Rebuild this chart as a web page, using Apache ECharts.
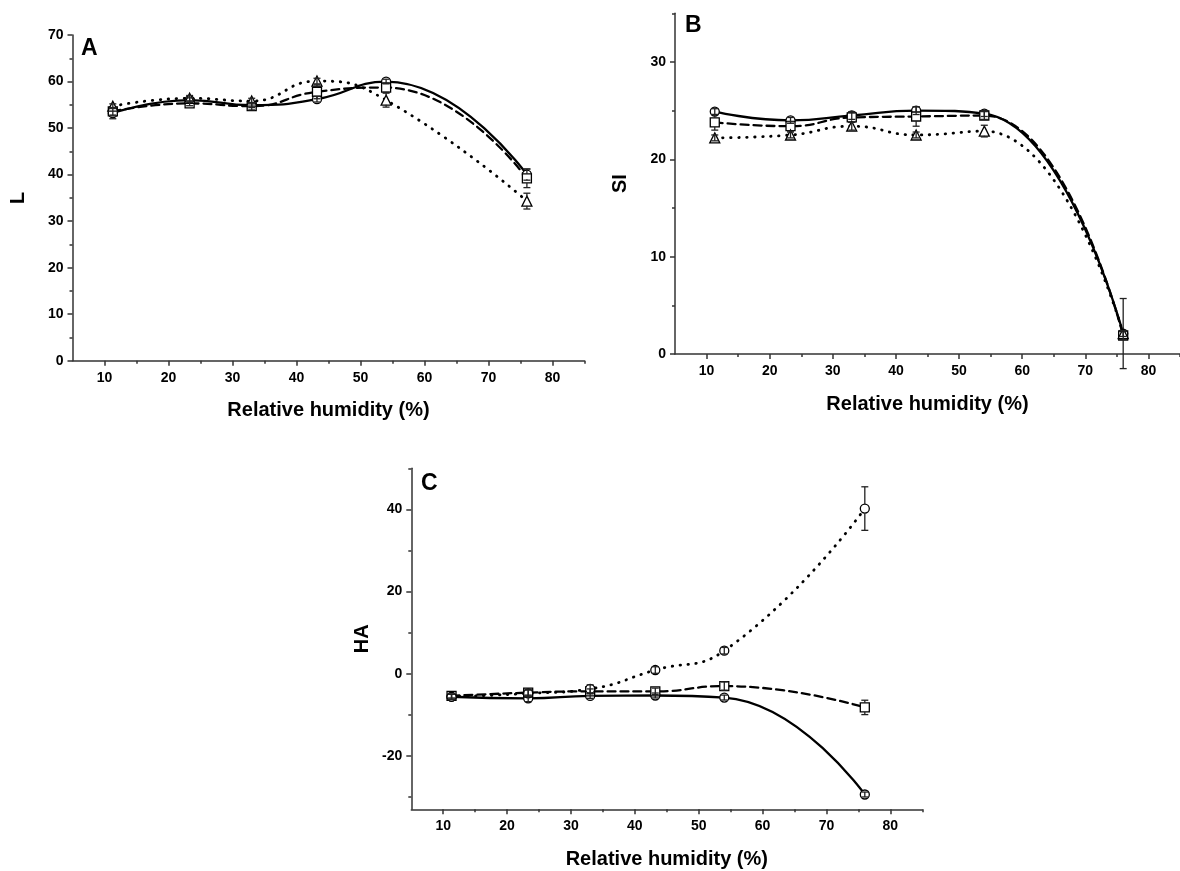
<!DOCTYPE html>
<html>
<head>
<meta charset="utf-8">
<title>Relative humidity panels</title>
<script src="https://cdn.jsdelivr.net/npm/echarts@6/dist/echarts.min.js"></script>
<style>
  html, body { margin: 0; padding: 0; background: #fff; }
  #main { width: 1180px; height: 871px; }
</style>
</head>
<body>
<div id="main"></div>
<script type="text/javascript">
// relative humidity (%) of each storage condition
var humidity = [11.3, 23.3, 33, 43.2, 54, 76];

// panel A : L
var L_solid = [53.2, 56.0, 54.9, 56.2, 60.0, 40.0];
var L_dashed = [53.6, 55.3, 54.7, 57.8, 58.7, 39.2];
var L_dotted = [54.7, 56.4, 55.8, 60.1, 56.0, 34.3];
var L_solidErr = [1.2, 0.5, 0.5, 0.6, 0.5, 1.2];
var L_dashedErr = [0.8, 0.5, 0.8, 1.5, 1.0, 2.0];
var L_dottedErr = [0.5, 0.6, 0.6, 0.6, 1.5, 1.7];

// panel B : SI
var SI_solid = [24.9, 24.0, 24.5, 25.0, 24.7, 2.1];
var SI_dashed = [23.8, 23.4, 24.3, 24.4, 24.5, 1.9];
var SI_dotted = [22.2, 22.5, 23.4, 22.5, 22.9, 2.1];
var SI_solidErr = [0.3, 0.3, 0.4, 0.4, 0.3, 3.6];
var SI_dashedErr = [0.8, 0.5, 0.5, 1.0, 0.4, 0.4];
var SI_dottedErr = [0.3, 0.3, 0.4, 0.3, 0.6, 0.3];

// panel C : HA
var HA_solid = [-5.6, -6.0, -5.4, -5.3, -5.8, -29.4];
var HA_dashed = [-5.4, -4.6, -4.3, -4.3, -3.0, -8.2];
var HA_dotted = [-5.6, -4.8, -3.7, 0.9, 5.6, 40.2];
var HA_solidErr = [0.6, 0.8, 0.6, 0.6, 0.6, 0.6];
var HA_dashedErr = [0.5, 0.8, 0.6, 0.8, 1.0, 1.75];
var HA_dottedErr = [0.6, 0.8, 1.0, 0.8, 0.8, 5.3];

// tick labels
var xMajor = [10, 20, 30, 40, 50, 60, 70, 80];
var xMinor = [15, 25, 35, 45, 55, 65, 75, 85];
var L_major = [0, 10, 20, 30, 40, 50, 60, 70];
var L_minor = [5, 15, 25, 35, 45, 55, 65];
var SI_major = [0, 10, 20, 30];
var SI_minor = [5, 15, 25, 35];
var HA_major = [-20, 0, 20, 40];
var HA_minor = [-30, -10, 10, 30, 50];

var FONT = 'Liberation Sans, Arial, sans-serif';
var AXIS_COLOR = '#333';

function pairs(ys) {
    return humidity.map(function (x, i) { return [x, ys[i]]; });
}
function triples(ys, es) {
    return humidity.map(function (x, i) { return [x, ys[i], es[i]]; });
}

var chart = echarts.init(document.getElementById('main'));

var grids = [];
var xAxes = [];
var yAxes = [];
var series = [];

function addPanel(box, yMin, yMax, yMajor, yMinor, yName, yGap, lines) {
    var g = grids.length;
    grids.push({ left: box[0], top: box[1], width: box[2], height: box[3] });
    var xi = xAxes.length;
    var yi = yAxes.length;
    xAxes.push({
        type: 'value', gridIndex: g, min: 5, max: 85, position: 'bottom',
        name: 'Relative humidity (%)', nameLocation: 'middle', nameGap: 40,
        nameTextStyle: { fontFamily: FONT, fontWeight: 'bold', fontSize: 20, color: '#000' },
        axisLine: { show: true, onZero: false, lineStyle: { color: AXIS_COLOR, width: 1.5 } },
        axisTick: { show: true, customValues: xMajor, length: 5, lineStyle: { color: AXIS_COLOR, width: 1.5 } },
        axisLabel: { customValues: xMajor, margin: 10, fontFamily: FONT, fontWeight: 'bold', fontSize: 14, color: '#000' },
        splitLine: { show: false }
    });
    xAxes.push({
        type: 'value', gridIndex: g, min: 5, max: 85, position: 'bottom',
        axisLine: { show: false, onZero: false },
        axisTick: { show: true, customValues: xMinor, length: 3, lineStyle: { color: AXIS_COLOR, width: 1.5 } },
        axisLabel: { show: false },
        splitLine: { show: false }
    });
    yAxes.push({
        type: 'value', gridIndex: g, min: yMin, max: yMax, position: 'left',
        name: yName, nameLocation: 'middle', nameGap: yGap,
        nameTextStyle: { fontFamily: FONT, fontWeight: 'bold', fontSize: 20, color: '#000' },
        axisLine: { show: true, onZero: false, lineStyle: { color: AXIS_COLOR, width: 1.5 } },
        axisTick: { show: true, customValues: yMajor, length: 5, lineStyle: { color: AXIS_COLOR, width: 1.5 } },
        axisLabel: { customValues: yMajor, margin: 9, fontFamily: FONT, fontWeight: 'bold', fontSize: 14, color: '#000' },
        splitLine: { show: false }
    });
    yAxes.push({
        type: 'value', gridIndex: g, min: yMin, max: yMax, position: 'left',
        axisLine: { show: false, onZero: false },
        axisTick: { show: true, customValues: yMinor, length: 3, lineStyle: { color: AXIS_COLOR, width: 1.5 } },
        axisLabel: { show: false },
        splitLine: { show: false }
    });

    lines.forEach(function (ln) {
        var dash = ln.style === 'solid' ? 'solid' : (ln.style === 'dashed' ? [8, 5] : [0.5, 7.5]);
        series.push({
            type: 'line', xAxisIndex: xi, yAxisIndex: yi,
            data: pairs(ln.values), smooth: 0.5,
            symbol: ln.symbol, symbolSize: ln.symbol === 'triangle' ? 10 : 9,
            itemStyle: { color: '#fff', borderColor: '#000', borderWidth: 1.3 },
            lineStyle: { color: '#000', width: ln.style === 'dotted' ? 2.8 : 2.3, type: dash, cap: 'round' },
            emphasis: { disabled: true },
            z: 2
        });
        series.push({
            type: 'custom', xAxisIndex: xi, yAxisIndex: yi,
            data: triples(ln.values, ln.err),
            renderItem: errorBar,
            z: 3, silent: true
        });
    });
}

// vertical error bar with caps; the part hidden by a larger marker is skipped
function errorBar(params, api) {
    var x = api.value(0), y = api.value(1), e = api.value(2);
    var c = api.coord([x, y]);
    var hi = api.coord([x, y + e]);
    var lo = api.coord([x, y - e]);
    var r = 4.6, w = 3.5;
    var st = { stroke: '#222', lineWidth: 1.3 };
    var kids = [];
    if (c[1] - hi[1] > r) {
        kids.push({ type: 'line', shape: { x1: c[0], y1: hi[1], x2: c[0], y2: c[1] - r }, style: st });
        kids.push({ type: 'line', shape: { x1: c[0], y1: c[1] + r, x2: c[0], y2: lo[1] }, style: st });
    } else {
        kids.push({ type: 'line', shape: { x1: c[0], y1: hi[1], x2: c[0], y2: lo[1] }, style: st });
    }
    kids.push({ type: 'line', shape: { x1: c[0] - w, y1: hi[1], x2: c[0] + w, y2: hi[1] }, style: st });
    kids.push({ type: 'line', shape: { x1: c[0] - w, y1: lo[1], x2: c[0] + w, y2: lo[1] }, style: st });
    return { type: 'group', children: kids };
}

addPanel([72.5, 35, 512, 325.7], 0, 70, L_major, L_minor, 'L', 44, [
    { values: L_solid, err: L_solidErr, style: 'solid', symbol: 'circle' },
    { values: L_dashed, err: L_dashedErr, style: 'dashed', symbol: 'rect' },
    { values: L_dotted, err: L_dottedErr, style: 'dotted', symbol: 'triangle' }
]);
addPanel([675, 13.3, 511, 340.7], 0, 35, SI_major, SI_minor, 'SI', 45, [
    { values: SI_solid, err: SI_solidErr, style: 'solid', symbol: 'circle' },
    { values: SI_dashed, err: SI_dashedErr, style: 'dashed', symbol: 'rect' },
    { values: SI_dotted, err: SI_dottedErr, style: 'dotted', symbol: 'triangle' }
]);
addPanel([411.3, 468.3, 511, 341], -33, 50, HA_major, HA_minor, 'HA', 39, [
    { values: HA_solid, err: HA_solidErr, style: 'solid', symbol: 'circle' },
    { values: HA_dashed, err: HA_dashedErr, style: 'dashed', symbol: 'rect' },
    { values: HA_dotted, err: HA_dottedErr, style: 'dotted', symbol: 'circle' }
]);

var option = {
    animation: false,
    backgroundColor: '#fff',
    grid: grids,
    xAxis: xAxes,
    yAxis: yAxes,
    series: series,
    graphic: [
        { type: 'text', left: 81, top: 37, style: { text: 'A', font: 'bold 23px ' + FONT, fill: '#000' } },
        { type: 'text', left: 685, top: 14, style: { text: 'B', font: 'bold 23px ' + FONT, fill: '#000' } },
        { type: 'text', left: 421, top: 472, style: { text: 'C', font: 'bold 23px ' + FONT, fill: '#000' } }
    ]
};

chart.setOption(option);
</script>
</body>
</html>
